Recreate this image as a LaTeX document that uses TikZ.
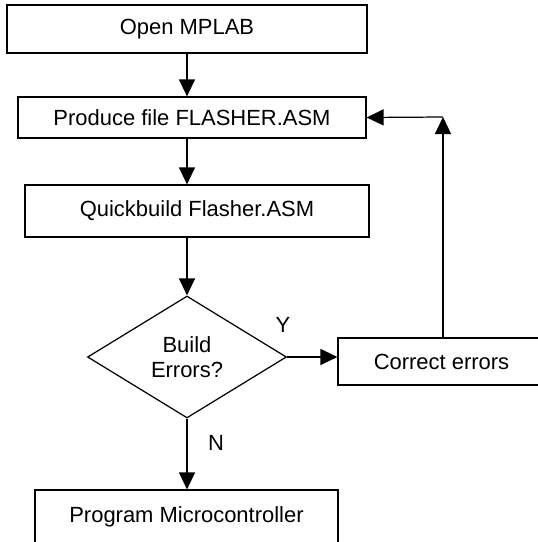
\documentclass[tikz,border=0pt]{standalone}
\usepackage{fontspec}
\setmainfont{Liberation Sans}
\usetikzlibrary{shapes.geometric,arrows.meta}

\begin{document}
\begin{tikzpicture}[x=0.02cm,y=-0.02cm,line width=0.7pt,
    >={Triangle[length=0.34cm,width=0.32cm]}]

      \useasboundingbox (0,0) rectangle (538,542);
      \clip (0,0) rectangle (538,542);

      \begin{scope}[every node/.style={draw,inner sep=0pt,font=\fontsize{12.5}{14}\selectfont}]
        \node[minimum width=7.2cm,minimum height=0.96cm]  (open)    at (187,29)    {Open MPLAB};
        \node[minimum width=6.96cm,minimum height=0.82cm] (produce) at (192,117.5) {Produce file FLASHER.ASM};
        \node[minimum width=6.88cm,minimum height=1.04cm] (quick)   at (197,211)   {Quickbuild Flasher.ASM};
        \node[diamond,aspect=1.63,minimum width=3.98cm,minimum height=2.44cm,align=center]
                                                           (build)   at (187,357)   {Build\\Errors?};
        \node[minimum width=4.14cm,minimum height=0.94cm] (correct) at (441.5,361.5) {Correct errors};
        \node[minimum width=6.06cm,minimum height=1.08cm] (program) at (186.5,517) {Program Microcontroller};
      \end{scope}

      \begin{scope}[every node/.style={font=\fontsize{12.5}{14}\selectfont}]
        \node (yes) at (283,325) {Y};
        \node (no)  at (216,443) {N};
      \end{scope}

      \coordinate (back) at (443,117);

      \draw[->] (open.south)  -- (open.south |- produce.north);
      \draw[->] (open.south |- produce.south) -- (open.south |- quick.north);
      \draw[->] (build.north |- quick.south) -- (build.north);
      \draw[->] (build.east) -- (build.east -| correct.west);
      \draw[->] (build.south) -- (build.south |- program.north);
      \draw[->] (correct.north -| back) -- (back);
      \draw[->] (back) -- (produce.east);

    \end{tikzpicture}
\end{document}
